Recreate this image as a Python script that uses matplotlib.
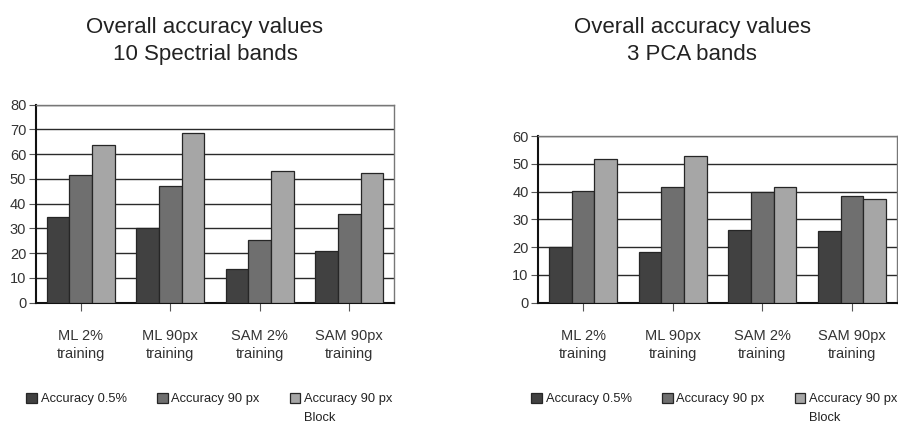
import matplotlib
matplotlib.use('Agg')
import matplotlib.pyplot as plt
import numpy as np

plt.rcParams['font.family'] = ['Liberation Sans', 'DejaVu Sans']

# categories and series
methods = ['ML 2%\ntraining', 'ML 90px\ntraining', 'SAM 2%\ntraining', 'SAM 90px\ntraining']
series = ['Accuracy 0.5%', 'Accuracy 90 px', 'Accuracy 90 px']

spectral_05 = [34.5, 30.3, 13.8, 20.8]
spectral_90 = [51.5, 47.3, 25.3, 35.8]
spectral_block = [63.9, 68.4, 53.1, 52.4]

pca_05 = [20.0, 18.3, 26.0, 25.9]
pca_90 = [40.2, 41.7, 39.8, 38.5]
pca_block = [51.7, 52.8, 41.6, 37.4]

colors = ['#414141', '#6f6f6f', '#a6a6a6']

W, H = 898, 423
fig = plt.figure(figsize=(W / 100, H / 100), dpi=100)


def draw(rect, vals, ymax, title, title_x, leg_x):
    ax = fig.add_axes(rect)
    x = np.arange(len(methods))
    w = 0.253
    bars = []
    for i, v in enumerate(vals):
        b = ax.bar(x + (i - 1) * w, v, w, color=colors[i], edgecolor='#262626',
                   linewidth=0.9, zorder=3)
        bars.append(b)
    ax.set_xlim(-0.5, len(methods) - 0.5)
    ax.set_ylim(0, ymax)
    ax.set_yticks(np.arange(0, ymax + 1, 10))
    ax.yaxis.grid(True, color='#2a2a2a', linewidth=1.0, zorder=0)
    ax.set_axisbelow(True)
    ax.set_xticks(x)
    ax.set_xticklabels(methods, fontsize=10.5, color='#333333', linespacing=1.35)
    ax.tick_params(axis='x', length=6, width=0.8, color='#555555', pad=13)
    ax.tick_params(axis='y', length=5, width=0.8, color='#555555', labelsize=10.5,
                   labelcolor='#333333', pad=2)
    for s in ['top', 'right']:
        ax.spines[s].set_color('#777777')
        ax.spines[s].set_linewidth(1.0)
    for s in ['left', 'bottom']:
        ax.spines[s].set_color('#111111')
        ax.spines[s].set_linewidth(1.5)

    for line, base in zip(title, [33, 60]):
        fig.text(title_x / W, 1 - base / H, line, ha='center', va='baseline',
                 fontsize=16, color='#222222')

    leg = ax.legend([b[0] for b in bars], series, ncol=3, loc='center left',
                    bbox_to_anchor=(leg_x / W, 1 - 399 / H),
                    bbox_transform=fig.transFigure, frameon=False,
                    fontsize=9.3, handlelength=0.85, handleheight=0.85,
                    handletextpad=0.3, columnspacing=2.3, borderaxespad=0,
                    borderpad=0)
    for t in leg.get_texts():
        t.set_color('#222222')
    return leg


legs = []
legs.append(draw([36 / W, 1 - 302.7 / H, 358 / W, 198 / H],
                 [spectral_05, spectral_90, spectral_block], 80,
                 ['Overall accuracy values', '10 Spectrial bands'], 205, 26))
legs.append(draw([538.3 / W, 1 - 302.7 / H, 358.4 / W, 166.7 / H],
                 [pca_05, pca_90, pca_block], 60,
                 ['Overall accuracy values', '3 PCA bands'], 692, 531))

# second line of the third legend entry
fig.canvas.draw()
for leg in legs:
    bb = leg.get_texts()[2].get_window_extent()
    fig.text(bb.x0 / W, (bb.y0 - 19) / H, 'Block',
             ha='left', va='bottom', fontsize=9.3, color='#222222')

fig.savefig('out.png', dpi=100)
